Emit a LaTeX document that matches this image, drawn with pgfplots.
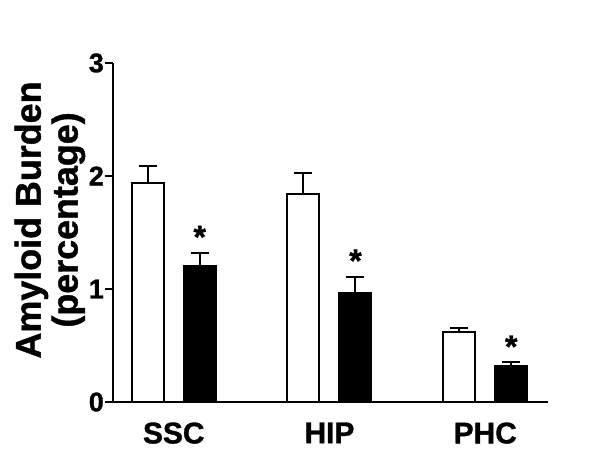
\documentclass[border=0pt]{standalone}
\usepackage{fontspec}
\setmainfont{Liberation Sans}[BoldFeatures={FakeBold=1.2}]
\usepackage{pgfplots}
\pgfplotsset{compat=1.18}
\begin{document}
\begin{tikzpicture}
\useasboundingbox (0,0) rectangle (600bp,464bp);
\begin{axis}[
  at={(113bp,62bp)}, anchor=south west,
  scale only axis, width=435bp, height=339bp,
  xmin=-0.39, xmax=2.403, ymin=0, ymax=3,
  axis x line=bottom, axis y line=left,
  axis line style={-, line width=2bp},
  xtick={0,1,2}, xticklabels={SSC,HIP,PHC},
  ytick={0,1,2,3},
  tick align=outside,
  major tick length=8bp,
  tick style={line width=2bp, black},
  xtick style={draw=none},
  /pgf/number format/assume math mode=true,
  yticklabel style={font=\fontsize{27}{30}\selectfont\bfseries, inner sep=1bp},
  xticklabel style={font=\fontsize{30}{34}\selectfont\bfseries, yshift=-9bp},
  ylabel={Amyloid Burden\\(percentage)},
  ylabel style={at={(axis description cs:-0.145,0.537)}, anchor=center, align=center, font=\fontsize{36}{37}\selectfont\bfseries},
  ybar=20bp, bar width=32bp,
  clip=false,
]
\addplot[fill=white, draw=black, line width=2bp,
  error bars/.cd, y dir=plus, y explicit,
  error bar style={line width=2bp, black},
  error mark options={rotate=90, mark size=9bp, line width=2bp, black}]
  coordinates {(0,1.94) +- (0,0.15) (1,1.84) +- (0,0.19) (2,0.617) +- (0,0.04)};
\addplot[fill=black, draw=black, line width=2bp,
  error bars/.cd, y dir=plus, y explicit,
  error bar style={line width=2bp, black},
  error mark options={rotate=90, mark size=9bp, line width=2bp, black}]
  coordinates {(0,1.20) +- (0,0.12) (1,0.965) +- (0,0.145) (2,0.32) +- (0,0.03)};
\addplot[draw=none, mark=none, sharp plot, forget plot, bar shift=26bp,
  nodes near coords={*},
  every node near coord/.append style={anchor=base, yshift=5bp, font=\fontsize{32}{34}\selectfont\bfseries}]
  coordinates {(0,1.32) (1,1.11) (2,0.35)};
\end{axis}
\end{tikzpicture}
\end{document}
